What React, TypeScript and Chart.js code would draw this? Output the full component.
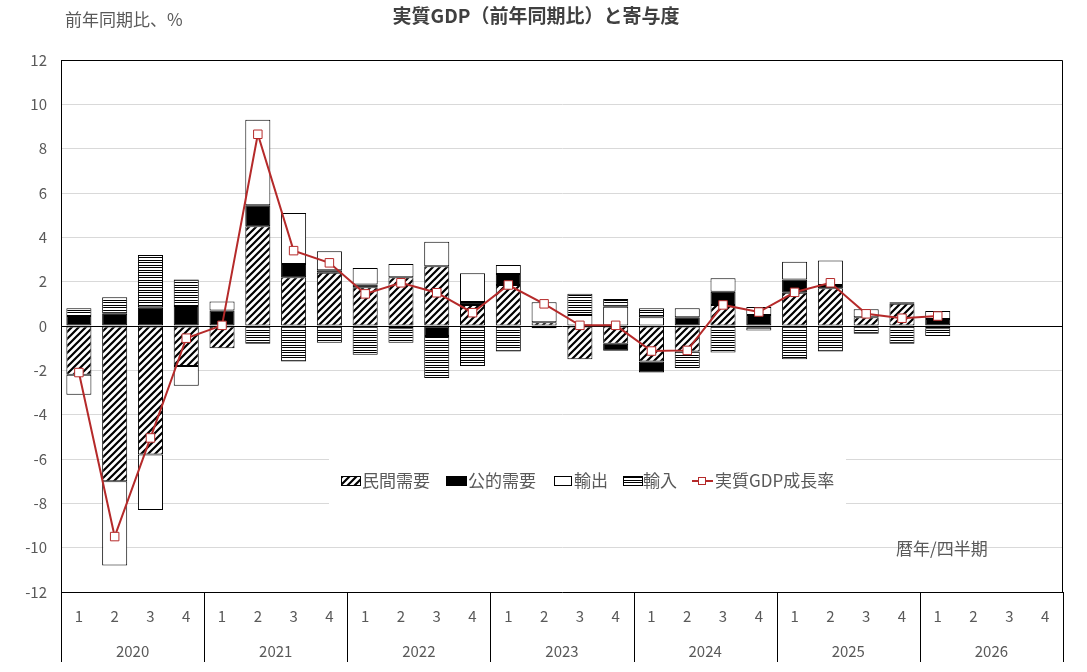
import React, { useEffect, useRef } from 'react';
import { Chart, registerables } from 'chart.js';

Chart.register(...registerables);

const years = ['2020', '2021', '2022', '2023', '2024', '2025', '2026'];
const quarterLabels = ['1', '2', '3', '4'];
const categories = years.flatMap((y) => quarterLabels.map((q) => `${y}Q${q}`));

const privateDemand = [
  -2.2, -7.0, -5.8, -1.8,
  -1.0, 4.5, 2.2, 2.4,
  1.75, 2.2, 2.7, 0.95,
  1.85, 0.17, -1.5, -0.8,
  -1.6, -1.15, 0.95, -0.08,
  1.5, 1.7, 0.4, 1.0,
  -0.1, null, null, null,
];
const publicDemand = [
  0.45, 0.55, 0.85, 0.9,
  0.7, 0.95, 0.6, 0.12,
  0.12, -0.1, -0.45, 0.13,
  0.5, -0.1, 0, -0.32,
  -0.5, 0.4, 0.6, 0.5,
  0.6, 0.15, 0, 0.07,
  0.32, null, null, null,
];
const exportsC = [
  -0.9, -3.8, -2.5, -0.9,
  0.4, 3.85, 2.3, 0.85,
  0.75, 0.6, 1.1, 1.3,
  0.4, 0.9, 0.5, 0.87,
  0.4, 0.4, 0.6, 0.36,
  0.8, 1.1, 0.36, 0,
  0.36, null, null, null,
];
const importsC = [
  0.35, 0.75, 2.35, 1.2,
  0, -0.8, -1.6, -0.75,
  -1.3, -0.65, -1.9, -1.8,
  -1.15, 0, 0.95, 0.35,
  0.4, -0.75, -1.2, -0.12,
  -1.5, -1.15, -0.35, -0.8,
  -0.35, null, null, null,
];
const gdpGrowth = [
  -2.1, -9.5, -5.05, -0.55,
  0.03, 8.65, 3.4, 2.85,
  1.45, 1.95, 1.5, 0.6,
  1.85, 1.0, 0.03, 0.03,
  -1.13, -1.1, 0.95, 0.63,
  1.52, 1.95, 0.55, 0.35,
  0.45, null, null, null,
];

const seriesNames = ['民間需要', '公的需要', '輸出', '輸入', '実質GDP成長率'];
const titleText = '実質GDP（前年同期比）と寄与度';
const yAxisTitle = '前年同期比、%';
const xAxisTitle = '暦年/四半期';

const FONT = '"Noto Sans CJK JP", "Noto Sans", sans-serif';
const TEXT = '#595959';
const RED = '#b52a2a';

function hatchPattern(): CanvasPattern | string {
  const s = 7;
  const c = document.createElement('canvas');
  c.width = s;
  c.height = s;
  const g = c.getContext('2d');
  if (!g) return '#888';
  g.fillStyle = '#fff';
  g.fillRect(0, 0, s, s);
  g.strokeStyle = '#000';
  g.lineWidth = 2.2;
  g.beginPath();
  g.moveTo(-2, 2);
  g.lineTo(2, -2);
  g.moveTo(0, s);
  g.lineTo(s, 0);
  g.moveTo(s - 2, s + 2);
  g.lineTo(s + 2, s - 2);
  g.stroke();
  return g.createPattern(c, 'repeat') || '#888';
}

function linePattern(): CanvasPattern | string {
  const c = document.createElement('canvas');
  c.width = 4;
  c.height = 5;
  const g = c.getContext('2d');
  if (!g) return '#888';
  g.fillStyle = '#fff';
  g.fillRect(0, 0, 4, 5);
  g.fillStyle = '#000';
  g.fillRect(0, 0, 4, 1);
  g.fillRect(0, 2, 4, 1);
  return g.createPattern(c, 'repeat') || '#888';
}

export default function App() {
  const ref = useRef<HTMLCanvasElement | null>(null);

  useEffect(() => {
    if (!ref.current) return;
    const hatch = hatchPattern();
    const lines = linePattern();

    const decor = {
      id: 'decor',
      afterDraw(chart: any) {
        const { ctx, chartArea: a } = chart;
        ctx.save();
        // plot frame
        ctx.strokeStyle = '#000';
        ctx.lineWidth = 1;
        ctx.beginPath();
        ctx.moveTo(a.left + 0.5, a.bottom);
        ctx.lineTo(a.left + 0.5, a.top + 0.5);
        ctx.lineTo(a.right - 0.5, a.top + 0.5);
        ctx.lineTo(a.right - 0.5, a.bottom);
        ctx.stroke();

        // titles
        ctx.fillStyle = '#404040';
        ctx.font = `bold 19px ${FONT}`;
        ctx.textAlign = 'center';
        ctx.textBaseline = 'middle';
        ctx.fillText(titleText, 536, 16);
        ctx.fillStyle = TEXT;
        ctx.font = `17px ${FONT}`;
        ctx.textAlign = 'left';
        ctx.fillText(yAxisTitle, 65, 20);
        ctx.fillText(xAxisTitle, 896, 549);

        // category axis labels
        const n = categories.length;
        const step = (a.right - a.left) / n;
        ctx.font = `15px ${FONT}`;
        ctx.textAlign = 'center';
        for (let i = 0; i < n; i++) {
          ctx.fillText(quarterLabels[i % 4], a.left + (i + 0.5) * step, 616);
        }
        for (let k = 0; k < years.length; k++) {
          ctx.fillText(years[k], a.left + (k * 4 + 2) * step, 651);
        }
        ctx.strokeStyle = '#000';
        ctx.beginPath();
        for (let k = 0; k <= years.length; k++) {
          const x = Math.round(a.left + k * 4 * step) + 0.5;
          ctx.moveTo(x, a.bottom);
          ctx.lineTo(x, 662);
        }
        ctx.stroke();

        // legend
        ctx.fillStyle = '#fff';
        ctx.fillRect(329, 452, 517, 58);
        const cy = 481;
        const boxes: Array<[number, number, any]> = [
          [341, 20, hatch],
          [446, 21, '#000'],
          [554, 18, '#fff'],
          [623, 20, lines],
        ];
        const textX = [362, 468, 574, 643, 715];
        ctx.lineWidth = 1;
        boxes.forEach(([x, w, fill]) => {
          ctx.fillStyle = fill;
          ctx.fillRect(x, cy - 5, w, 10);
          ctx.strokeStyle = '#000';
          ctx.strokeRect(x + 0.5, cy - 5 + 0.5, w - 1, 9);
        });
        // line legend symbol
        ctx.strokeStyle = RED;
        ctx.lineWidth = 2;
        ctx.beginPath();
        ctx.moveTo(692, cy);
        ctx.lineTo(713, cy);
        ctx.stroke();
        ctx.fillStyle = '#fff';
        ctx.lineWidth = 1;
        ctx.fillRect(698, cy - 4, 8, 8);
        ctx.strokeRect(698.5, cy - 3.5, 7, 7);
        ctx.fillStyle = TEXT;
        ctx.font = `17px ${FONT}`;
        ctx.textAlign = 'left';
        ctx.textBaseline = 'middle';
        seriesNames.forEach((s, i) => ctx.fillText(s, textX[i], cy));
        ctx.restore();
      },
    };

    const barCommon = {
      type: 'bar' as const,
      borderColor: '#000',
      borderWidth: 1,
      borderSkipped: false,
      barPercentage: 0.7,
      categoryPercentage: 1,
      stack: 'contrib',
      order: 1,
    };

    const chart = new Chart(ref.current, {
      type: 'bar',
      data: {
        labels: categories,
        datasets: [
          { ...barCommon, label: seriesNames[0], data: privateDemand, backgroundColor: hatch },
          { ...barCommon, label: seriesNames[1], data: publicDemand, backgroundColor: '#000' },
          { ...barCommon, label: seriesNames[2], data: exportsC, backgroundColor: '#fff' },
          { ...barCommon, label: seriesNames[3], data: importsC, backgroundColor: lines },
          {
            type: 'line',
            label: seriesNames[4],
            data: gdpGrowth,
            borderColor: RED,
            borderWidth: 2,
            pointStyle: 'rect',
            pointRadius: 6,
            pointBackgroundColor: '#fff',
            pointBorderColor: RED,
            pointBorderWidth: 1,
            stack: 'gdp',
            order: 0,
            spanGaps: false,
          } as any,
        ],
      },
      options: {
        responsive: false,
        animation: false,
        devicePixelRatio: 1,
        layout: { padding: { top: 60, right: 24, bottom: 0, left: 0 } },
        plugins: {
          legend: { display: false },
          title: { display: false },
          tooltip: { enabled: false },
        },
        scales: {
          x: {
            stacked: true,
            ticks: { display: false },
            grid: { display: false, drawTicks: false },
            border: { display: true, color: '#000', width: 1 },
            afterFit: (s: any) => {
              s.height = 80;
            },
          },
          y: {
            stacked: true,
            min: -12,
            max: 12,
            ticks: {
              stepSize: 2,
              padding: 14,
              color: TEXT,
              font: { family: FONT, size: 15 },
            },
            grid: {
              drawTicks: false,
              color: (c: any) => (c.tick && c.tick.value === 0 ? '#000' : '#d9d9d9'),
              lineWidth: 1,
            },
            border: { display: true, color: '#000', width: 1 },
            afterFit: (s: any) => {
              s.width = 61;
            },
          },
        },
      } as any,
      plugins: [decor],
    });
    return () => chart.destroy();
  }, []);

  return (
    <div style={{ position: 'absolute', left: 0, top: 0, width: 1087, height: 672, background: '#fff' }}>
      <canvas ref={ref} width={1087} height={672} style={{ display: 'block' }} />
    </div>
  );
}
